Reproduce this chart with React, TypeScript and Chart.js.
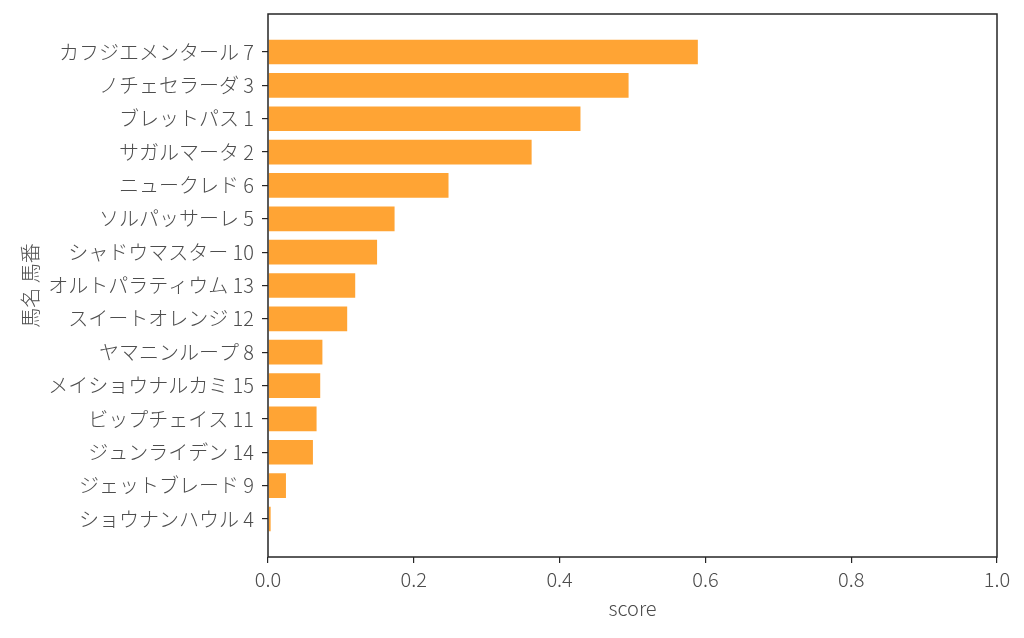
import { useEffect, useRef } from "react";
import { Chart, registerables, Plugin } from "chart.js";

Chart.register(...registerables);

const horseLabels = [
  "カフジエメンタール 7",
  "ノチェセラーダ 3",
  "ブレットパス 1",
  "サガルマータ 2",
  "ニュークレド 6",
  "ソルパッサーレ 5",
  "シャドウマスター 10",
  "オルトパラティウム 13",
  "スイートオレンジ 12",
  "ヤマニンループ 8",
  "メイショウナルカミ 15",
  "ビップチェイス 11",
  "ジュンライデン 14",
  "ジェットブレード 9",
  "ショウナンハウル 4",
];

const scores = [
  0.591, 0.496, 0.43, 0.363, 0.249, 0.175, 0.151, 0.121, 0.11, 0.076, 0.073,
  0.068, 0.063, 0.026, 0.005,
];

const xTicks = [0, 0.2, 0.4, 0.6, 0.8, 1.0];

const FONT = "'Noto Sans CJK JP', 'Noto Sans', sans-serif";
const TEXT = "#4d4d4d";
const AXIS = "#262626";

// box around the plot area, like matplotlib's spines
const frame: Plugin = {
  id: "frame",
  afterDatasetsDraw(chart) {
    const { ctx, chartArea: a } = chart;
    ctx.save();
    ctx.strokeStyle = AXIS;
    ctx.lineWidth = 1.5;
    ctx.strokeRect(a.left, a.top, a.right - a.left, a.bottom - a.top);
    ctx.restore();
  },
};

export default function App() {
  const canvasRef = useRef<HTMLCanvasElement | null>(null);

  useEffect(() => {
    document.body.style.margin = "0";
    if (!canvasRef.current) return;
    const ctx = canvasRef.current.getContext("2d");
    if (!ctx) return;

    const chart = new Chart(ctx, {
      type: "bar",
      data: {
        datasets: [
          {
            data: scores.map((s, i) => ({ x: s, y: i })),
            backgroundColor: "#ffa434",
            borderColor: "rgba(255,255,255,0.5)",
            borderWidth: 1,
            barPercentage: 0.8,
            categoryPercentage: 1.0,
          },
        ],
      },
      options: {
        indexAxis: "y",
        animation: false,
        responsive: false,
        devicePixelRatio: 1,
        layout: { padding: { top: 14, right: 27, left: 0, bottom: 0 } },
        plugins: {
          legend: { display: false },
          tooltip: { enabled: false },
        },
        scales: {
          x: {
            type: "linear",
            min: 0,
            max: 1,
            afterBuildTicks: (axis) => {
              axis.ticks = xTicks.map((v) => ({ value: v }));
            },
            afterFit: (axis) => {
              axis.height = 638 - 557;
            },
            grid: {
              drawOnChartArea: false,
              tickLength: 6,
              color: AXIS,
              lineWidth: 1.2,
            },
            border: { display: false },
            ticks: {
              color: TEXT,
              font: { family: FONT, size: 20, weight: 300 },
              padding: 4,
              callback: (v) => Number(v).toFixed(1),
            },
            title: {
              display: true,
              text: "score",
              color: TEXT,
              font: { family: FONT, size: 20, weight: 300 },
              padding: { top: 2, bottom: 18 },
            },
          },
          y: {
            type: "linear",
            reverse: true,
            offset: false,
            min: -1.14,
            max: horseLabels.length - 1 + 1.14,
            afterBuildTicks: (axis) => {
              axis.ticks = horseLabels.map((_, i) => ({ value: i }));
            },
            afterFit: (axis) => {
              axis.width = 268;
              axis.paddingTop = 0;
              axis.paddingBottom = 0;
            },
            grid: {
              offset: false,
              drawOnChartArea: false,
              tickLength: 6,
              color: AXIS,
              lineWidth: 1.2,
            },
            border: { display: false },
            ticks: {
              color: TEXT,
              font: { family: FONT, size: 20, weight: 300 },
              padding: 8,
              callback: (v) => horseLabels[Number(v)] ?? "",
            },
            title: {
              display: true,
              text: "馬名 馬番",
              color: TEXT,
              font: { family: FONT, size: 20, weight: 300 },
              padding: { top: 18, bottom: 4 },
            },
          },
        },
      },
      plugins: [frame],
    });

    return () => {
      chart.destroy();
    };
  }, []);

  return (
    <div style={{ width: 1024, height: 638, background: "#fff" }}>
      <canvas ref={canvasRef} width={1024} height={638}></canvas>
    </div>
  );
}
